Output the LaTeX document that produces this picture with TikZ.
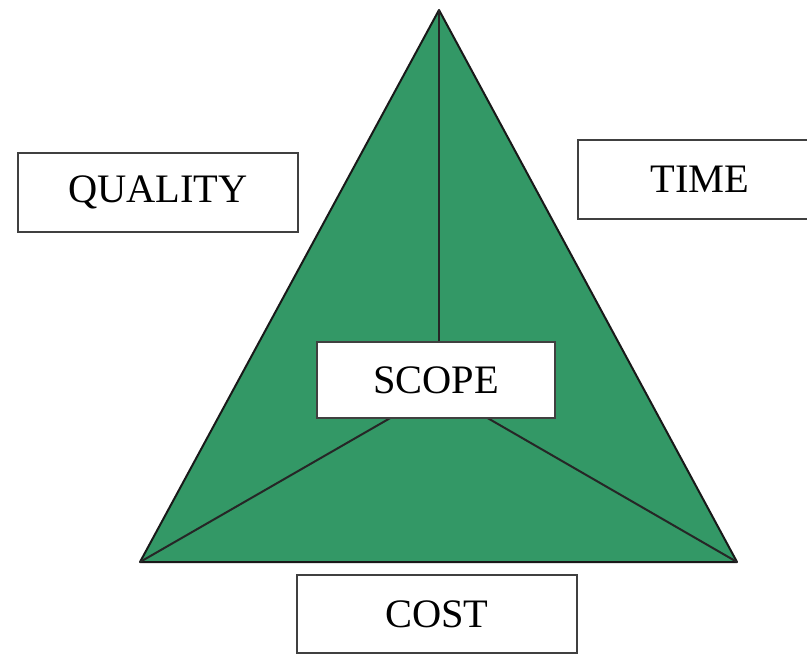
\documentclass[tikz,border=0pt]{standalone}
\usepackage{fontspec}
\setmainfont{Liberation Serif}
\usepackage{tikz}
\usetikzlibrary{calc}
\definecolor{trigreen}{RGB}{51,152,102}

\begin{document}
\begin{tikzpicture}[x=0.2mm, y=-0.2mm,
    label box/.style={draw=black!75, line width=0.4mm, fill=white, inner sep=0pt,
        font=\fontsize{23}{27}\selectfont},
    edge line/.style={draw=black!85, line width=0.4mm}]
            \useasboundingbox (0, 0) rectangle (807, 655);
            \clip (0, 0) rectangle (807, 655);
            % corners of the triangle
            \coordinate (top) at (439, 10);
            \coordinate (left) at (140, 562);
            \coordinate (right) at (737, 562);
            \coordinate (hub) at (439, 390);
            % draw the triangle
            \filldraw [fill=trigreen, draw=black!90, line width=0.4mm, line join=round] (top) -- (left) -- (right) -- cycle;
            \draw [edge line] (top) -- (hub);
            \draw [edge line] (left) -- (hub);
            \draw [edge line] (right) -- (hub);
            % the boxes
            \node (scope) at (436, 380) [label box, minimum width=47.6mm, minimum height=15.2mm] {SCOPE};
            \node (quality) at (158, 192.5) [label box, minimum width=56mm, minimum height=15.8mm] {QUALITY};
            \node (time) at (700, 179.5) [label box, minimum width=49mm, minimum height=15.8mm] {TIME};
            \node (cost) at (437, 614) [label box, minimum width=56mm, minimum height=15.6mm] {COST};
        \end{tikzpicture}
\end{document}
